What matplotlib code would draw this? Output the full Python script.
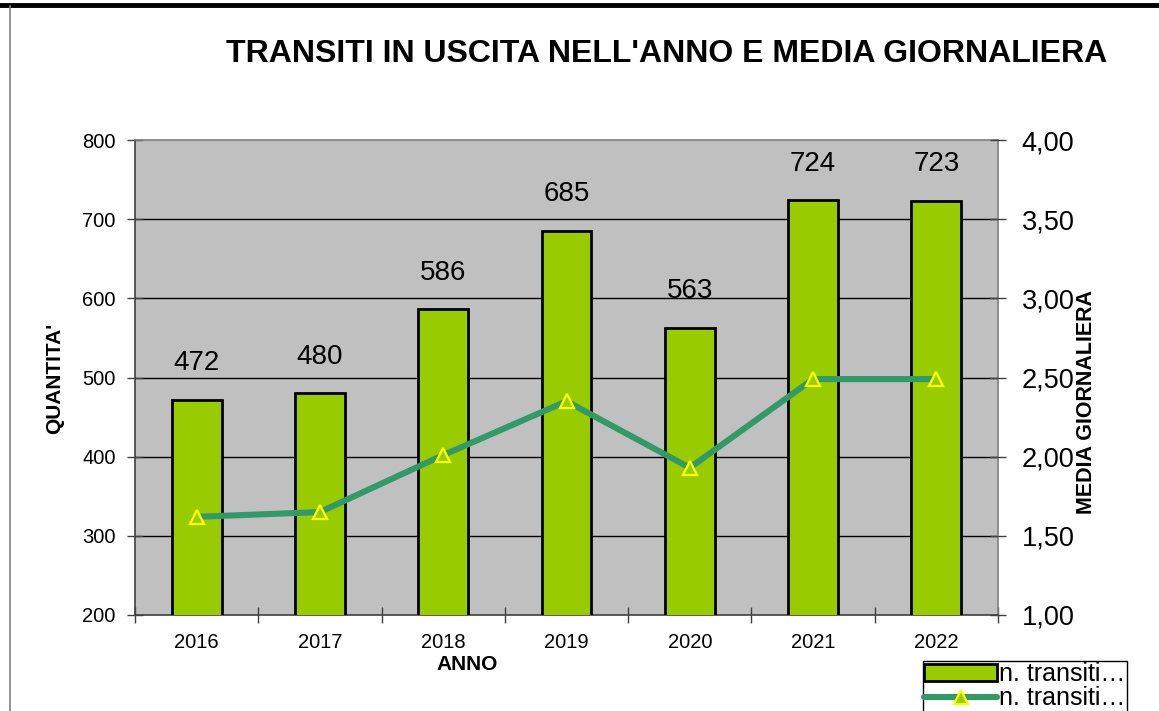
import matplotlib
matplotlib.use("Agg")
import matplotlib.pyplot as plt
from matplotlib.lines import Line2D
from matplotlib.patches import Patch
from matplotlib.ticker import FixedLocator, FuncFormatter, MultipleLocator
import numpy as np

plt.rcParams['font.family'] = ['Liberation Sans', 'DejaVu Sans']

# ---- data ----
years = ['2016', '2017', '2018', '2019', '2020', '2021', '2022']
transiti = [472, 480, 586, 685, 563, 724, 723]
media = [1.62, 1.65, 2.01, 2.35, 1.93, 2.49, 2.49]
title = "TRANSITI IN USCITA NELL'ANNO E MEDIA GIORNALIERA"
legend_labels = ['n. transiti…', 'n. transiti…']

W, H = 1159, 711
fig = plt.figure(figsize=(W / 100, H / 100), dpi=100)

L, R, T, B = 135, 998, 140, 615
ax = fig.add_axes([L / W, 1 - B / H, (R - L) / W, (B - T) / H])
ax.set_facecolor('#C0C0C0')

x = np.arange(len(years))
bars = ax.bar(x, transiti, width=0.405, color='#99CC00', edgecolor='black',
              linewidth=2, zorder=3)
ax.set_ylim(200, 800)
ax.set_xlim(-0.5, len(years) - 0.5)
ax.yaxis.set_major_locator(MultipleLocator(100))
for v in range(300, 800, 100):
    ax.axhline(v, color='black', lw=1, zorder=1)

for xi, v in zip(x, transiti):
    ax.annotate(str(v), (xi, v), xytext=(0, 17), textcoords='offset points',
                ha='center', va='bottom', fontsize=20)

# x ticks: labels at centers, tick marks at boundaries
ax.set_xticks(x)
ax.set_xticklabels(years, fontsize=14.5)
ax.tick_params(axis='x', which='major', length=0, pad=13)
ax.xaxis.set_minor_locator(FixedLocator(np.arange(-0.5, len(years), 1.0)))
ax.tick_params(axis='x', which='minor', direction='inout', length=12, width=1, color='#404040')
ax.tick_params(axis='y', which='major', direction='inout', length=12, width=1,
               labelsize=14.5, pad=8, color='#404040')

for s in ['top', 'right']:
    ax.spines[s].set_color('#808080')
ax.spines['left'].set_color('#404040')
ax.spines['bottom'].set_color('#404040')
for s in ax.spines.values():
    s.set_linewidth(1.2)

ax2 = ax.twinx()
ax2.set_ylim(1.0, 4.0)
ax2.yaxis.set_major_locator(MultipleLocator(0.5))
ax2.yaxis.set_major_formatter(FuncFormatter(lambda v, p: f"{v:.2f}".replace('.', ',')))
ax2.tick_params(axis='y', direction='inout', length=12, width=1, labelsize=19.5, pad=11,
                color='#404040')
ax2.plot(x, media, color='#339966', lw=4.4, marker='^', markersize=10,
         markerfacecolor='#99CC00', markeredgecolor='#FFFF00', markeredgewidth=1.6,
         zorder=5, solid_capstyle='round')
for s in ax2.spines.values():
    s.set_visible(False)

# titles / labels
fig.text(667 / W, 1 - 54 / H, title, ha='center', va='center', fontsize=23, fontweight='bold')
fig.text(467 / W, 1 - 665 / H, 'ANNO', ha='center', va='center', fontsize=15, fontweight='bold')
fig.text(55 / W, 1 - 378 / H, "QUANTITA'", ha='center', va='center', rotation=90,
         fontsize=15, fontweight='bold')
fig.text(1086 / W, 1 - 402 / H, 'MEDIA GIORNALIERA', ha='center', va='center', rotation=90,
         fontsize=15.5, fontweight='bold')

# legend
handles = [Patch(facecolor='#99CC00', edgecolor='black', linewidth=2),
           Line2D([0], [0], color='#339966', lw=4.4, marker='^', markersize=10,
                  markerfacecolor='#99CC00', markeredgecolor='#FFFF00', markeredgewidth=1.6,
                  solid_capstyle='round')]
leg = fig.legend(handles, legend_labels, loc='upper left',
                 bbox_to_anchor=(923 / W, 1 - 661 / H), fontsize=18, frameon=True,
                 fancybox=False, edgecolor='black', framealpha=1, borderpad=0.05,
                 handlelength=2.9, handletextpad=0.1, labelspacing=0.0, borderaxespad=0)
leg.get_frame().set_linewidth(1)

# figure frame lines
fig.add_artist(Line2D([0, 1], [1 - 5 / H, 1 - 5 / H], transform=fig.transFigure,
                      color='black', lw=3.5))
fig.add_artist(Line2D([10 / W, 10 / W], [0, 1 - 6 / H], transform=fig.transFigure,
                      color='#808080', lw=1.2))

fig.savefig('out.png', dpi=100)
